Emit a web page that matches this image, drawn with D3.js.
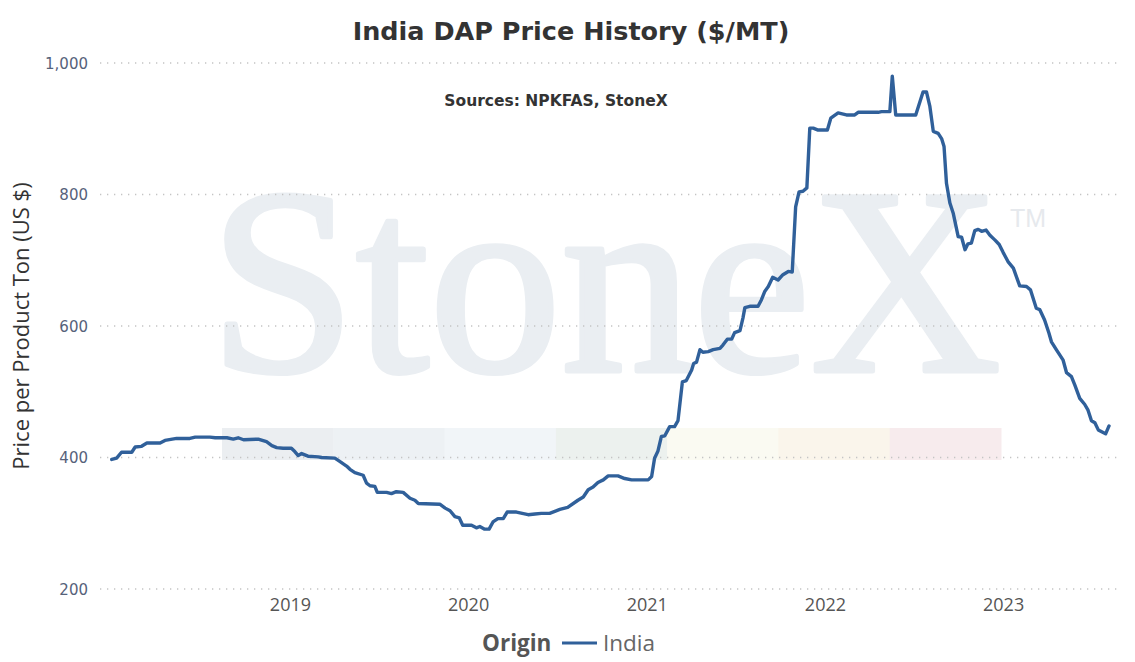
<!DOCTYPE html>
<html>
<head>
<meta charset="utf-8">
<script src="https://cdn.jsdelivr.net/npm/d3@7"></script>
<style>
  html, body { margin: 0; padding: 0; background: #fff; }
  svg { display: block; }
</style>
</head>
<body>
<svg id="chart" width="1135" height="662"></svg>
<script>
// ---------------- DATA ----------------
const chartTitle = "India DAP Price History ($/MT)";
const subTitle = "Sources: NPKFAS, StoneX";
const yAxisTitle = "Price per Product Ton (US $)";
const seriesName = "India";
const legendTitle = "Origin";

const dates = [
  "2018-01-01","2018-01-11","2018-01-21","2018-02-11","2018-02-18","2018-03-03","2018-03-14","2018-04-10","2018-04-20","2018-05-14",
  "2018-06-10","2018-06-21","2018-07-21","2018-08-01","2018-08-25","2018-09-07","2018-09-17","2018-09-28","2018-10-28","2018-11-14",
  "2018-11-25","2018-12-05","2018-12-18","2019-01-04","2019-01-11","2019-01-18","2019-01-25","2019-02-07","2019-02-28","2019-03-07",
  "2019-04-03","2019-04-13","2019-04-27","2019-05-04","2019-05-14","2019-05-31","2019-06-07","2019-06-14","2019-06-24","2019-06-29",
  "2019-07-18","2019-07-28","2019-08-07","2019-08-21","2019-09-04","2019-09-14","2019-09-21","2019-11-04","2019-11-15","2019-11-25",
  "2019-12-05","2019-12-14","2019-12-21","2020-01-08","2020-01-18","2020-01-25","2020-02-04","2020-02-13","2020-02-21","2020-03-02",
  "2020-03-13","2020-03-21","2020-04-09","2020-05-03","2020-05-17","2020-05-30","2020-06-16","2020-07-07","2020-07-23","2020-08-13",
  "2020-08-24","2020-09-03","2020-09-13","2020-09-23","2020-10-04","2020-10-14","2020-11-03","2020-11-17","2020-12-01","2021-01-04",
  "2021-01-11","2021-01-17","2021-01-24","2021-01-31","2021-02-07","2021-02-17","2021-02-27","2021-03-06","2021-03-15","2021-03-23",
  "2021-04-03","2021-04-07","2021-04-13","2021-04-20","2021-04-26","2021-05-07","2021-05-17","2021-05-31","2021-06-06","2021-06-15",
  "2021-06-24","2021-06-30","2021-07-11","2021-07-17","2021-07-21","2021-07-31","2021-08-17","2021-08-24","2021-08-31","2021-09-07",
  "2021-09-16","2021-09-27","2021-10-07","2021-10-18","2021-10-26","2021-11-02","2021-11-09","2021-11-17","2021-11-25","2021-12-01",
  "2021-12-08","2021-12-18","2022-01-06","2022-01-13","2022-01-28","2022-02-14","2022-03-03","2022-03-10","2022-04-20","2022-04-27",
  "2022-05-14","2022-05-19","2022-05-26","2022-07-06","2022-07-21","2022-07-28","2022-08-04","2022-08-11","2022-08-21","2022-08-28",
  "2022-09-02","2022-09-07","2022-09-14","2022-09-21","2022-10-01","2022-10-08","2022-10-15","2022-10-21","2022-10-28","2022-11-04",
  "2022-11-11","2022-11-18","2022-11-27","2022-12-05","2022-12-15","2022-12-24","2023-01-01","2023-01-11","2023-01-22","2023-02-04",
  "2023-02-18","2023-02-26","2023-03-10","2023-03-17","2023-03-27","2023-04-05","2023-04-10","2023-04-20","2023-05-04","2023-05-11",
  "2023-05-21","2023-05-28","2023-06-07","2023-06-17","2023-06-24","2023-07-01","2023-07-08","2023-07-15","2023-07-30","2023-08-06"
];
const prices = [
  397,399,408,408,416,417,422,422,426,429,
  429,431,431,430,430,428,430,427,428,424,
  418,415,414,414,409,403,406,402,401,400,
  399,394,387,382,377,373,361,357,356,347,
  347,345,348,347,338,335,330,329,323,319,
  310,308,297,297,293,295,291,291,302,307,
  307,317,317,313,314,315,315,321,324,335,
  340,351,355,362,366,372,372,368,366,366,
  371,399,410,432,433,447,447,456,515,517,
  533,543,545,564,560,561,564,566,571,580,
  580,590,593,612,628,630,630,640,653,660,
  674,670,678,683,682,781,804,805,810,901,
  901,898,898,916,924,921,921,925,925,926,
  926,980,921,921,956,956,934,896,893,885,
  873,817,787,771,736,735,716,725,726,745,
  747,744,746,738,731,724,712,698,688,661,
  660,655,627,625,609,589,576,564,548,529,
  523,510,490,481,472,456,453,442,436,448
];

const yTicks = [200, 400, 600, 800, 1000];
const xTickYears = [2019, 2020, 2021, 2022, 2023];
const bandColors = ["#ebeef1","#edf1f4","#f1f5f8","#ecf1ee","#fafaf2","#faf5eb","#f7ebed"];

// ---------------- DRAW ----------------
const svg = d3.select("#chart");
const parse = d3.timeParse("%Y-%m-%d");
const data = dates.map((d, i) => ({ date: parse(d), value: prices[i] }));

const x = d3.scaleTime()
  .domain([parse("2018-01-01"), parse("2023-01-01")])
  .range([111.75, 1003.1]);
const y = d3.scaleLinear().domain([200, 1000]).range([589, 63]);

const plotLeft = 100, plotRight = 1120;

// watermark
const wm = svg.append("g").attr("class", "watermark");
wm.append("text")
  .attr("x", 209).attr("y", 371)
  .attr("font-family", "'Liberation Serif', 'DejaVu Serif', serif")
  .attr("font-size", 266)
  .attr("textLength", 792)
  .attr("lengthAdjust", "spacingAndGlyphs")
  .attr("fill", "#eaeef2")
  .attr("stroke", "#eaeef2")
  .attr("stroke-width", 5)
  .attr("stroke-linejoin", "round")
  .text("StoneX");
wm.append("text")
  .attr("x", 1010).attr("y", 227)
  .attr("font-family", "'Liberation Sans', Arial, sans-serif")
  .attr("font-size", 25)
  .attr("fill", "#e6e9ed")
  .text("TM");
const bandX = d3.scaleBand().domain(d3.range(bandColors.length)).range([222, 1001]).padding(0);
wm.selectAll("rect.band").data(bandColors).join("rect")
  .attr("class", "band")
  .attr("x", (d, i) => bandX(i))
  .attr("width", bandX.bandwidth() + 0.5)
  .attr("y", 428).attr("height", 32)
  .attr("fill", d => d);

// gridlines
svg.append("g").selectAll("line").data(yTicks).join("line")
  .attr("x1", plotLeft).attr("x2", plotRight)
  .attr("y1", d => y(d)).attr("y2", d => y(d))
  .attr("stroke", "#c4c4c4")
  .attr("stroke-width", 1.3)
  .attr("stroke-dasharray", "1.3,5.7");

// y axis labels
const yAxis = d3.axisLeft(y).tickValues(yTicks).tickFormat(d3.format(",")).tickSize(0).tickPadding(0);
const gy = svg.append("g").attr("transform", "translate(88,0)").call(yAxis);
gy.select(".domain").remove();
gy.selectAll("text")
  .attr("font-family", "'DejaVu Sans', Verdana, sans-serif")
  .attr("font-size", 15)
  .attr("fill", "#56627a")
  .attr("dy", "0.35em");

// x axis labels
const xAxis = d3.axisBottom(x)
  .tickValues(xTickYears.map(yr => new Date(yr, 0, 1)))
  .tickFormat(d3.timeFormat("%Y")).tickSize(0).tickPadding(0);
const gx = svg.append("g").attr("transform", "translate(0,598)").call(xAxis);
gx.select(".domain").remove();
gx.selectAll("text")
  .attr("font-family", "'Open Sans', 'Segoe UI', sans-serif")
  .attr("font-size", 18)
  .attr("fill", "#555")
  .attr("dy", "0.71em");

// line
const line = d3.line().x(d => x(d.date)).y(d => y(d.value));
svg.append("path").datum(data)
  .attr("d", line)
  .attr("fill", "none")
  .attr("stroke", "#30609a")
  .attr("stroke-width", 3.4)
  .attr("stroke-linejoin", "round")
  .attr("stroke-linecap", "round");

// title
svg.append("text")
  .attr("x", 571).attr("y", 40)
  .attr("text-anchor", "middle")
  .attr("font-family", "'DejaVu Sans', Verdana, sans-serif")
  .attr("font-weight", "bold")
  .attr("font-size", 25.5)
  .attr("fill", "#333")
  .text(chartTitle);

svg.append("text")
  .attr("x", 556).attr("y", 106)
  .attr("text-anchor", "middle")
  .attr("font-family", "'DejaVu Sans', Verdana, sans-serif")
  .attr("font-weight", "bold")
  .attr("font-size", 15.5)
  .attr("fill", "#333")
  .text(subTitle);

// y axis title
svg.append("text")
  .attr("transform", "translate(29,326) rotate(-90)")
  .attr("text-anchor", "middle")
  .attr("font-family", "'Open Sans', 'Segoe UI', sans-serif")
  .attr("font-size", 22)
  .attr("fill", "#333")
  .text(yAxisTitle);

// legend
const lg = svg.append("g").attr("transform", "translate(0,643)");
lg.append("text")
  .attr("x", 482).attr("dy", "0.35em")
  .attr("font-family", "'Open Sans', 'Segoe UI', sans-serif")
  .attr("font-weight", "bold")
  .attr("font-size", 22.5)
  .attr("fill", "#555")
  .text(legendTitle);
lg.append("line")
  .attr("x1", 562).attr("x2", 597).attr("y1", 0).attr("y2", 0)
  .attr("stroke", "#30609a").attr("stroke-width", 3);
lg.append("text")
  .attr("x", 603).attr("dy", "0.35em")
  .attr("font-family", "'Open Sans', 'Segoe UI', sans-serif")
  .attr("font-size", 22.5)
  .attr("fill", "#666")
  .text(seriesName);
</script>
</body>
</html>
